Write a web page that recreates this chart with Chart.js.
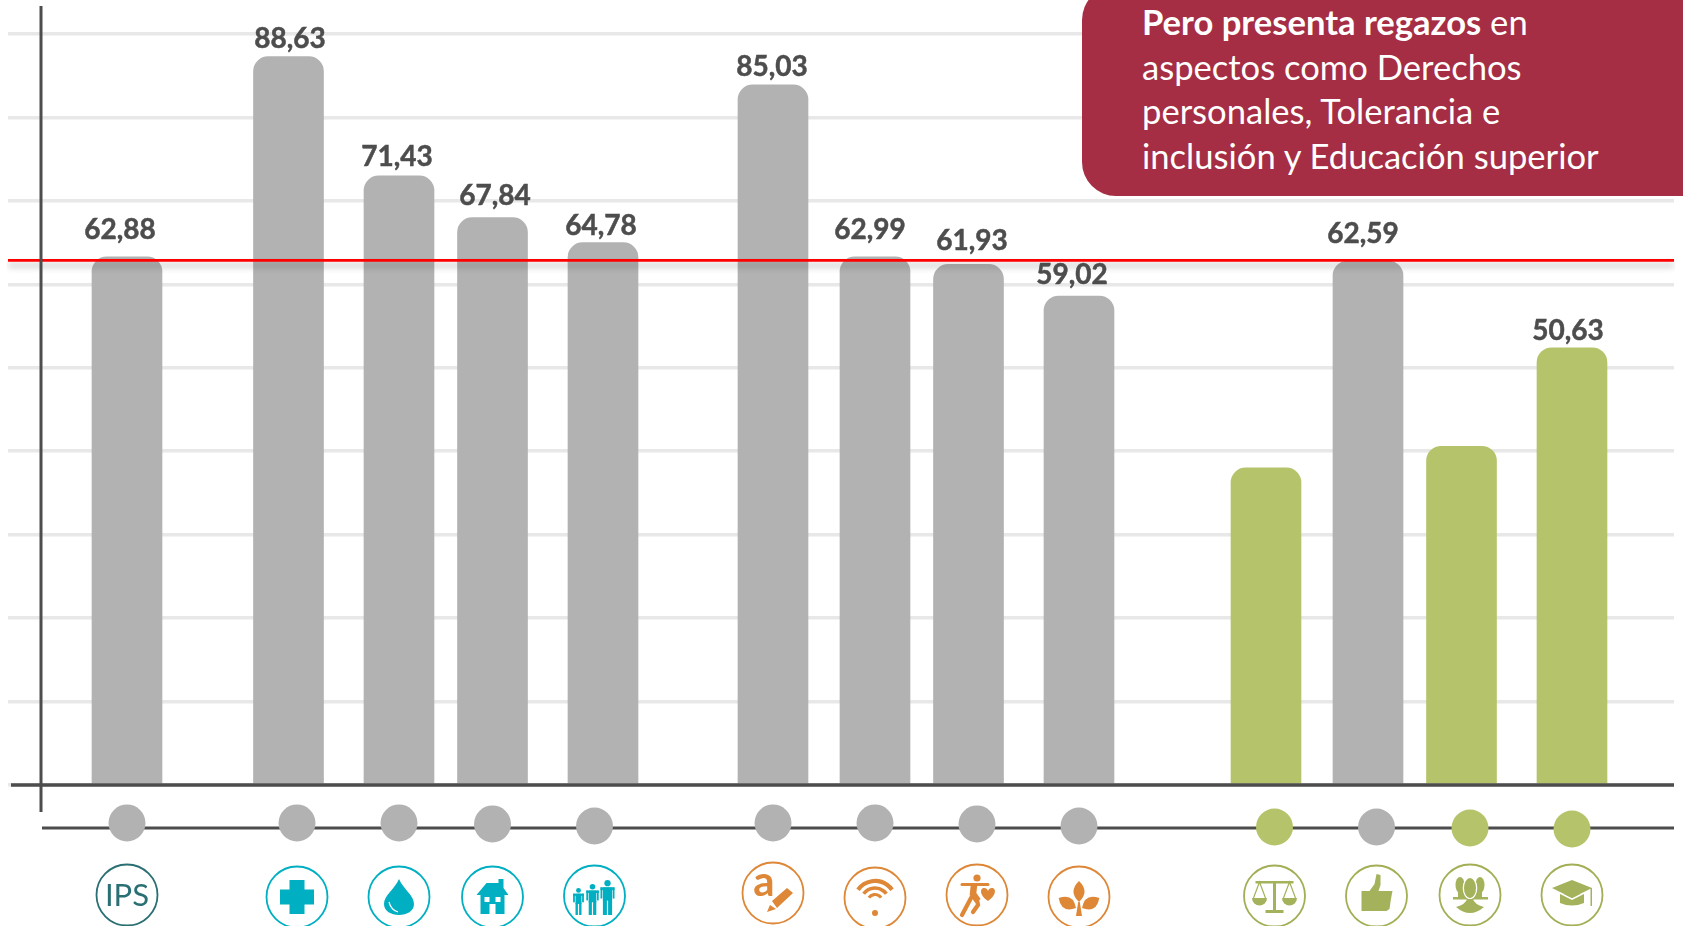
<!DOCTYPE html>
<html>
<head>
<meta charset="utf-8">
<script src="https://cdn.jsdelivr.net/npm/chart.js@4"></script>
<style>
  html, body { margin: 0; padding: 0; background: #fff; overflow: hidden; }
  #wrap { position: relative; width: 1683px; height: 926px; overflow: hidden; }
  #callout {
    position: absolute; left: 1082px; top: -14px; width: 640px; height: 210px;
    background: #a52d44; border-radius: 34px; color: #fff;
    font: 34.6px/44.5px Lato, sans-serif; white-space: nowrap; box-sizing: border-box;
    padding: 14px 0 0 60px;
  }
</style>
</head>
<body>
<div id="wrap">
  <canvas id="chart" width="1683" height="926"></canvas>
  <div id="callout"><b>Pero presenta regazos</b> en<br>aspectos como Derechos<br>personales, Tolerancia e<br>inclusión y Educación superior</div>
</div>
<script>
const indicators = ['IPS', 'Nutrición y cuidados médicos', 'Agua y saneamiento', 'Vivienda', 'Seguridad personal',
  'Conocimientos básicos', 'Información y comunicaciones', 'Salud y bienestar', 'Sustentabilidad ambiental',
  'Derechos personales', 'Libertad personal', 'Tolerancia e inclusión', 'Educación superior'];
// bar heights as read against the gridlines (10 units per line)
const barValues = [63.3, 87.3, 73.0, 68.0, 65.0, 83.9, 63.3, 62.4, 58.6, 38.0, 62.8, 40.6, 52.4];
const barLabels = ['62,88', '88,63', '71,43', '67,84', '64,78', '85,03', '62,99', '61,93', '59,02', null, '62,59', null, '50,63'];
const laggards = ['Derechos personales', 'Tolerancia e inclusión', 'Educación superior'];
const dotLevels = [-4.55, -4.55, -4.55, -4.67, -4.91, -4.55, -4.55, -4.67, -4.91, -5.03, -5.03, -5.15, -5.27];
const referenceValue = 62.88;
const trackLevel = -5.15;
const gridTicks = [0, 10, 20, 30, 40, 50, 60, 70, 80, 90];

// the bars are unevenly spaced, so they sit on a fine category axis with empty slots between them
const barSlots = [14, 33, 46, 57, 70, 90, 102, 113, 126, 148, 160, 171, 184];
const dotSlots = [14, 34, 46, 57, 69, 90, 102, 114, 126, 149, 161, 172, 184];
const slotCount = 197;

const slotLabels = new Array(slotCount).fill('');
const slotBars = new Array(slotCount).fill(null);
const slotBarColors = new Array(slotCount).fill('#b2b2b2');
const slotDots = new Array(slotCount).fill(null);
const slotDotColors = new Array(slotCount).fill('#b2b2b2');
indicators.forEach((name, i) => {
  const lag = laggards.includes(name);
  slotLabels[barSlots[i]] = name;
  slotBars[barSlots[i]] = barValues[i];
  slotDots[dotSlots[i]] = dotLevels[i];
  if (lag) {
    slotBarColors[barSlots[i]] = '#b5c46a';
    slotDotColors[dotSlots[i]] = '#b5c46a';
  }
});

const ICON = { ips: '#2a6f73', teal: '#00afc1', orange: '#dd8737', green: '#a3ae55' };
const LAG_FILL = '#a5b25c';

function poly(c, pts) {
  c.beginPath();
  pts.forEach((p, i) => i ? c.lineTo(p[0], p[1]) : c.moveTo(p[0], p[1]));
  c.closePath();
  c.fill();
}
function disc(c, x, y, r) { c.beginPath(); c.arc(x, y, r, 0, Math.PI * 2); c.fill(); }
function oval(c, x, y, rx, ry) { c.beginPath(); c.ellipse(x, y, rx, ry, 0, 0, Math.PI * 2); c.fill(); }
function stroke(c, pts, w) {
  c.lineWidth = w;
  c.beginPath();
  pts.forEach((p, i) => i ? c.lineTo(p[0], p[1]) : c.moveTo(p[0], p[1]));
  c.stroke();
}
function person(c, x, foot, h) {
  const top = foot - h, w = h * 0.4;
  disc(c, x, top + h * 0.09, h * 0.09);
  c.fillRect(x - w / 2, top + h * 0.21, w, h * 0.08);
  c.fillRect(x - w / 2, top + h * 0.21, 1.8, h * 0.32);
  c.fillRect(x + w / 2 - 1.8, top + h * 0.21, 1.8, h * 0.32);
  c.fillRect(x - w / 2 + 2.4, top + h * 0.21, w - 4.8, h * 0.38);
  c.fillRect(x - w / 2 + 2.4, top + h * 0.55, w / 2 - 3, h * 0.45);
  c.fillRect(x + 0.6, top + h * 0.55, w / 2 - 3, h * 0.45);
}
function leaf(c, x, y, ang, len, wid) {
  c.save();
  c.translate(x, y);
  c.rotate(ang);
  c.beginPath();
  c.moveTo(0, 0);
  c.quadraticCurveTo(wid, -len * 0.5, 0, -len);
  c.quadraticCurveTo(-wid, -len * 0.5, 0, 0);
  c.fill();
  c.restore();
}

const icons = [
  { color: ICON.ips, dy: 895, draw(c) {
    c.font = '31px Lato, sans-serif'; c.textAlign = 'center'; c.textBaseline = 'middle';
    c.fillText('IPS', 0, 1);
  } },
  { color: ICON.teal, dy: 897, draw(c) {
    c.fillRect(-7.5, -17, 15, 34); c.fillRect(-17, -7.5, 34, 15);
  } },
  { color: ICON.teal, dy: 897, draw(c) {
    c.beginPath();
    c.moveTo(0, -18);
    c.bezierCurveTo(4, -8, 15, -2, 15, 7);
    c.bezierCurveTo(15, 14, 8, 18, 0, 18);
    c.bezierCurveTo(-8, 18, -15, 14, -15, 7);
    c.bezierCurveTo(-15, -2, -4, -8, 0, -18);
    c.fill();
    c.strokeStyle = '#fff';
    c.lineWidth = 1.2;
    c.beginPath(); c.moveTo(-10, 5); c.quadraticCurveTo(-8, 13, -1, 15); c.stroke();
  } },
  { color: ICON.teal, dy: 897, draw(c) {
    poly(c, [[-16, -2], [-6, -14], [6, -14], [6, -18], [11, -18], [11, -9], [16, -2]]);
    c.fillRect(-12, -2, 24, 19);
    c.fillStyle = '#fff';
    c.fillRect(-8, 0, 5, 5); c.fillRect(3, 0, 5, 5); c.fillRect(-3, 7, 6, 10);
  } },
  { color: ICON.teal, dy: 896, draw(c) {
    person(c, -16, 19, 27); person(c, -2, 19, 31); person(c, 13, 19, 35);
  } },
  { color: ICON.orange, dy: 893, draw(c) {
    c.font = 'bold 42px Lato, sans-serif'; c.textAlign = 'center'; c.textBaseline = 'middle';
    c.fillText('a', -9, -11);
    poly(c, [[14, -5], [20, 0], [4, 15], [-1, 8]]);
    poly(c, [[-3, 12], [3, 16], [-6, 19]]);
  } },
  { color: ICON.orange, dy: 898, draw(c) {
    c.lineCap = 'butt';
    [[21, 4.2], [14, 3.6], [7.5, 3.2]].forEach(a => {
      c.lineWidth = a[1];
      c.beginPath(); c.arc(0, 4, a[0], Math.PI * 1.2, Math.PI * 1.8); c.stroke();
    });
    disc(c, 0, 15, 3);
  } },
  { color: ICON.orange, dy: 895, draw(c) {
    disc(c, 0, -17, 3.6);
    c.lineCap = 'round';
    stroke(c, [[-15, -10.5], [11, -10.5]], 3);
    c.lineCap = 'butt';
    stroke(c, [[-3, -10], [-4, -1], [1, 6]], 6.5);
    c.lineCap = 'round';
    stroke(c, [[-6, 3], [-15, 20]], 4.2);
    stroke(c, [[0, 4], [1, 10], [-4, 17]], 4.2);
    c.beginPath();
    c.moveTo(11, 6);
    c.bezierCurveTo(2, 0, 3, -7, 7, -7);
    c.bezierCurveTo(9, -7, 10.5, -6, 11, -4);
    c.bezierCurveTo(11.5, -6, 13, -7, 15, -7);
    c.bezierCurveTo(19, -7, 20, 0, 11, 6);
    c.fill();
  } },
  { color: ICON.orange, dy: 897, draw(c) {
    leaf(c, 0, 5, 0, 21, 11);
    leaf(c, -3, 11, -1.05, 20, 12);
    leaf(c, 3, 11, 1.05, 20, 12);
    poly(c, [[-0.8, 5], [0.8, 5], [3, 19], [-3, 19]]);
  } },
  { color: ICON.green, dy: 896, draw(c) {
    c.fillStyle = LAG_FILL;
    c.fillRect(-1.5, -15, 3, 30); c.fillRect(-9, 14, 18, 3); c.fillRect(-19, -15, 38, 2.5);
    c.strokeStyle = LAG_FILL;
    [-15, 15].forEach(x => {
      stroke(c, [[x - 6, 2], [x, -14], [x + 6, 2]], 1.2);
      c.beginPath(); c.arc(x, 2, 7.5, 0, Math.PI); c.fill();
    });
  } },
  { color: ICON.green, dy: 896, draw(c) {
    c.fillStyle = LAG_FILL;
    poly(c, [[-15, -5], [-7, -5], [-2, -12], [0, -22], [4, -21], [4, -11], [2, -5], [16, -5], [15, 0], [14, 6], [13, 13], [10, 15], [-15, 15]]);
  } },
  { color: ICON.green, dy: 895, draw(c) {
    c.fillStyle = LAG_FILL;
    oval(c, -10, -10, 4.5, 8); oval(c, 10, -10, 4.5, 8);
    c.fillRect(-17, 2, 35, 2.5);
    c.fillRect(-12, -4, 24, 6);
    c.strokeStyle = '#fff';
    c.lineWidth = 1.6;
    c.beginPath(); c.ellipse(0, -7, 6.5, 10.5, 0, 0, Math.PI * 2); c.stroke();
    oval(c, 0, -7, 6, 10);
    c.beginPath();
    c.moveTo(-14, 12); c.quadraticCurveTo(-4, 9, -3, 4); c.lineTo(3, 4); c.quadraticCurveTo(4, 9, 14, 12);
    c.quadraticCurveTo(7, 18, 0, 18); c.quadraticCurveTo(-7, 18, -14, 12);
    c.fill();
  } },
  { color: ICON.green, dy: 895, draw(c) {
    c.fillStyle = LAG_FILL;
    c.beginPath();
    c.moveTo(-12, -1); c.lineTo(12, -1); c.lineTo(12, 8);
    c.quadraticCurveTo(0, 13, -12, 8);
    c.closePath();
    c.fill();
    c.strokeStyle = '#fff';
    c.lineWidth = 1.6;
    c.beginPath(); c.moveTo(-22, -7); c.lineTo(0, 4); c.lineTo(22, -7); c.stroke();
    poly(c, [[-20, -7], [0, -15], [20, -7], [0, 3]]);
    c.fillRect(18.5, -7, 1.5, 18);
  } }
];

const chartDecor = {
  id: 'chartDecor',
  beforeDatasetDraw(chart, args) {
    if (chart.data.datasets[args.index].label !== 'Promedio IPS') return;
    const c = chart.ctx;
    c.save();
    c.shadowColor = 'rgba(0,0,0,0.3)';
    c.shadowBlur = 6;
    c.shadowOffsetY = 5;
  },
  afterDatasetDraw(chart, args) {
    if (chart.data.datasets[args.index].label === 'Promedio IPS') chart.ctx.restore();
  },
  afterDatasetsDraw(chart, args, opts) {
    const c = chart.ctx, x = chart.scales.x, y = chart.scales.y;
    c.save();
    c.strokeStyle = '#4d4d4d';
    c.lineWidth = 3.5;
    c.beginPath();
    c.moveTo(x.left + 3, y.getPixelForValue(0));
    c.lineTo(x.right, y.getPixelForValue(0));
    c.stroke();
    c.lineWidth = 3;
    c.beginPath();
    c.moveTo(41, 6);
    c.lineTo(41, 812);
    c.stroke();

    // value labels
    const bars = chart.getDatasetMeta(0).data;
    c.font = 'bold 28px Lato, sans-serif';
    c.fillStyle = '#4d4d4d';
    c.strokeStyle = '#4d4d4d';
    c.lineWidth = 0.5;
    c.textAlign = 'center';
    c.textBaseline = 'middle';
    barLabels.forEach((txt, i) => {
      if (!txt) return;
      const el = bars[barSlots[i]];
      c.fillText(txt, el.x + opts.labelShiftX[i], el.y - opts.labelLift[i]);
      c.strokeText(txt, el.x + opts.labelShiftX[i], el.y - opts.labelLift[i]);
    });
    c.restore();
  },
  afterDraw(chart) {
    const c = chart.ctx, x = chart.scales.x;
    icons.forEach((ic, i) => {
      c.save();
      c.translate(x.getPixelForValue(dotSlots[i]), ic.dy);
      c.strokeStyle = ic.color;
      c.lineWidth = 1.8;
      c.beginPath();
      c.arc(0, 0, 30.5, 0, Math.PI * 2);
      c.stroke();
      c.fillStyle = ic.color;
      ic.draw(c);
      c.restore();
    });
  }
};

const pxPerUnit = 8.344;
new Chart(document.getElementById('chart').getContext('2d'), {
  data: {
    labels: slotLabels,
    datasets: [
      { type: 'bar', label: 'Indicador', data: slotBars, backgroundColor: slotBarColors,
        barThickness: 70, order: 4,
        borderRadius: { topLeft: 15, topRight: 15, bottomLeft: 0, bottomRight: 0 }, borderSkipped: false },
      { type: 'line', label: 'Eje', data: slotLabels.map((_, i) => i >= 4 ? trackLevel : null),
        borderColor: '#4d4d4d', borderWidth: 3, pointRadius: 0, order: 3 },
      { type: 'line', label: 'Puntos', data: slotDots, showLine: false, spanGaps: true, order: 2,
        pointRadius: 18.5, pointBorderWidth: 0, pointBackgroundColor: slotDotColors },
      { type: 'line', label: 'Promedio IPS', data: slotLabels.map(() => referenceValue),
        borderColor: '#ff0000', borderWidth: 2.6, pointRadius: 0, order: 1 }
    ]
  },
  options: {
    responsive: false,
    animation: false,
    events: [],
    layout: { autoPadding: false, padding: { left: 8, right: 9, top: 0, bottom: 0 } },
    scales: {
      x: { type: 'category', offset: false, display: false },
      y: {
        min: -(926 - 785) / pxPerUnit,
        max: 785 / pxPerUnit,
        afterBuildTicks(axis) { axis.ticks = gridTicks.map(v => ({ value: v })); },
        ticks: { display: false },
        border: { display: false },
        grid: { color: '#e8e8e8', lineWidth: 3.5, drawTicks: false }
      }
    },
    plugins: {
      legend: { display: false },
      tooltip: { enabled: false },
      chartDecor: {
        labelShiftX: [-7, 1.5, -2, 2.5, -2, -1, -5, 3.5, -7, 0, -5, 0, -4],
        labelLift: [27, 18, 19, 22, 17, 18, 27, 23, 21, 0, 27, 0, 17]
      }
    }
  },
  plugins: [chartDecor]
});
</script>
</body>
</html>
